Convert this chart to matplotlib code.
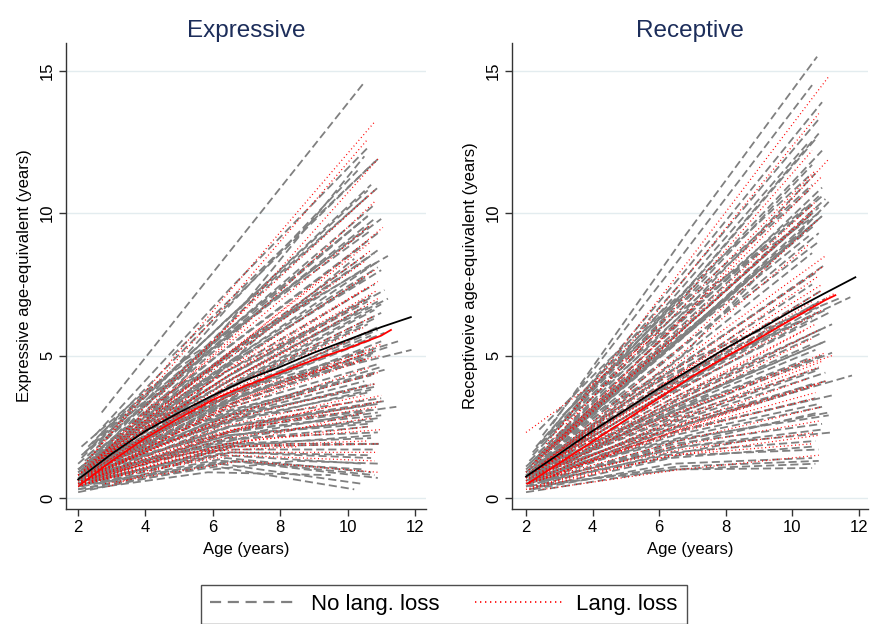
import matplotlib
matplotlib.use("Agg")
import matplotlib.pyplot as plt
from matplotlib.lines import Line2D

plt.rcParams["font.family"] = ["Liberation Sans", "DejaVu Sans"]

# each row: start age, end age, age-equivalent at start, at midpoint, at end
expr_noloss = [
    (2.7, 10.5, 3.0, 8.8, 14.6), (2.5, 10.6, 2.2, 7.4, 12.3), (2.3, 10.8, 1.8, 6.9, 11.8),
    (2.2, 10.7, 1.6, 6.3, 11.0), (2.4, 10.9, 1.9, 6.5, 10.9), (2.1, 10.8, 1.5, 5.9, 10.3),
    (2.0, 10.6, 1.2, 5.6, 9.9), (2.6, 10.7, 1.9, 5.9, 9.6), (2.2, 10.9, 1.3, 5.4, 9.3),
    (2.0, 10.5, 1.0, 5.1, 8.9), (2.3, 10.8, 1.4, 5.0, 8.6), (2.1, 10.9, 1.1, 4.8, 8.3),
    (2.5, 11.0, 1.5, 4.9, 8.0), (2.0, 10.6, 0.9, 4.5, 7.8), (2.2, 10.8, 1.2, 4.5, 7.5),
    (2.4, 11.1, 1.3, 4.5, 7.3), (2.0, 10.7, 0.9, 4.2, 7.1), (2.3, 10.9, 1.1, 4.2, 6.9),
    (2.1, 10.5, 1.0, 4.0, 6.7), (2.6, 11.0, 1.4, 4.1, 6.5), (2.0, 10.8, 0.8, 3.8, 6.3),
    (2.2, 10.6, 1.0, 3.8, 6.1), (2.4, 10.9, 1.2, 3.8, 5.9), (2.1, 10.7, 0.9, 3.6, 5.7),
    (2.0, 11.0, 0.7, 3.4, 5.5), (2.3, 11.2, 1.1, 3.6, 5.3), (2.5, 10.8, 1.3, 3.5, 5.1),
    (2.0, 10.6, 0.8, 3.2, 4.9), (2.2, 10.9, 1.0, 3.2, 4.7), (2.1, 11.1, 0.9, 3.1, 4.5),
    (2.4, 10.7, 1.1, 3.1, 4.3), (2.0, 10.5, 0.6, 2.8, 4.1), (2.3, 10.8, 1.0, 2.9, 3.9),
    (2.1, 10.6, 0.8, 2.7, 3.7), (2.6, 11.0, 1.2, 2.8, 3.5), (2.0, 10.9, 0.6, 2.5, 3.3),
    (2.2, 10.7, 0.8, 2.5, 3.1), (2.4, 11.0, 1.0, 2.4, 2.9), (2.1, 10.8, 0.7, 2.2, 2.7),
    (2.0, 10.6, 0.5, 2.0, 2.5), (2.3, 10.9, 0.8, 2.1, 2.3), (2.1, 10.7, 0.6, 1.9, 2.1),
    (2.5, 11.0, 0.9, 1.9, 1.9), (2.0, 10.8, 0.5, 1.7, 1.7), (2.2, 10.6, 0.6, 1.6, 1.5),
    (2.0, 10.5, 0.4, 1.5, 1.2), (2.1, 10.7, 0.4, 1.4, 0.9), (2.0, 10.4, 0.2, 1.2, 0.5),
    (2.3, 10.9, 0.5, 1.3, 0.7), (2.0, 10.2, 0.3, 1.1, 0.3), (3.5, 10.6, 2.6, 6.8, 10.6),
    (4.0, 10.8, 3.0, 6.6, 9.8), (3.2, 10.5, 2.0, 5.4, 8.5), (4.5, 11.2, 2.8, 5.0, 7.0),
    (3.0, 11.9, 1.4, 3.9, 5.2), (3.3, 11.5, 1.7, 4.0, 5.5), (2.8, 11.45, 1.2, 2.5, 3.2),
    (3.6, 11.2, 2.5, 5.9, 8.5), (5.0, 10.5, 4.0, 8.0, 12.0), (4.2, 10.2, 2.2, 5.5, 8.4),
    (3.0, 9.0, 1.8, 4.2, 6.0), (2.5, 8.5, 1.0, 2.6, 3.6), (5.5, 10.8, 2.0, 2.8, 3.3),
    (6.0, 11.0, 1.0, 1.3, 1.2), (2.0, 7.0, 0.5, 1.5, 2.0), (2.4, 6.5, 1.5, 3.5, 5.0),
    (4.8, 10.9, 5.0, 8.5, 11.9), (2.9, 10.3, 1.9, 6.9, 11.5), (3.8, 10.7, 1.6, 3.0, 4.0),
    (2.2, 9.5, 0.3, 0.9, 0.8), (2.1, 10.6, 1.4, 6.2, 10.8), (2.3, 10.4, 1.5, 5.8, 9.7),
    (2.0, 10.9, 1.0, 5.0, 8.7), (2.2, 10.5, 1.1, 4.6, 7.7), (2.5, 10.7, 1.6, 5.2, 8.2),
    (2.1, 11.0, 0.8, 4.0, 6.8), (2.4, 10.6, 1.2, 4.3, 6.9), (2.0, 10.9, 0.7, 3.6, 6.0),
    (2.2, 11.1, 0.9, 3.7, 5.8), (2.6, 10.8, 1.3, 3.7, 5.6), (2.1, 10.5, 0.7, 3.3, 5.2),
    (2.3, 10.7, 0.9, 3.3, 5.0), (2.0, 11.0, 0.6, 3.0, 4.6), (2.4, 10.9, 1.0, 3.0, 4.4),
    (2.2, 10.8, 0.8, 2.8, 4.0), (2.0, 10.7, 0.5, 2.6, 3.8), (2.5, 11.1, 0.9, 2.6, 3.4),
    (2.1, 10.9, 0.6, 2.3, 3.0), (2.3, 10.6, 0.7, 2.2, 2.6), (2.0, 10.8, 0.4, 1.8, 2.2),
    (2.2, 11.0, 0.5, 1.8, 1.9), (2.4, 10.7, 0.6, 1.6, 1.4), (2.0, 10.5, 0.3, 1.3, 1.0),
    (2.6, 10.8, 0.5, 1.3, 0.8), (3.0, 10.6, 2.4, 6.2, 9.9), (3.4, 10.9, 2.2, 5.3, 8.1),
    (2.8, 10.7, 2.1, 6.0, 9.4), (4.4, 11.0, 3.6, 6.9, 9.8), (3.1, 10.8, 1.6, 4.2, 6.6),
    (2.9, 10.5, 0.9, 2.2, 3.0), (3.6, 10.9, 1.2, 2.2, 2.8), (2.0, 5.5, 1.0, 2.4, 3.6),
    (2.1, 6.0, 1.8, 3.8, 5.4), (2.7, 7.5, 2.3, 4.8, 6.6),
]
expr_loss = [
    (2.4, 10.8, 1.5, 7.4, 13.2), (2.2, 10.6, 1.2, 6.8, 12.6), (2.3, 10.9, 1.0, 6.2, 11.9),
    (2.1, 10.8, 0.9, 5.5, 10.4), (2.6, 11.05, 1.3, 5.4, 9.5), (2.0, 10.7, 0.8, 5.0, 9.0),
    (2.2, 10.5, 0.9, 4.8, 8.3), (2.5, 10.9, 1.1, 4.5, 7.6), (2.1, 10.6, 0.7, 4.0, 7.0),
    (2.3, 10.8, 0.9, 3.9, 6.4), (2.0, 10.7, 0.6, 3.5, 5.9), (2.4, 11.0, 0.9, 3.4, 5.4),
    (2.2, 10.6, 0.7, 3.1, 4.9), (2.1, 10.9, 0.6, 2.9, 4.4), (2.5, 10.8, 0.9, 2.8, 4.0),
    (2.0, 10.5, 0.5, 2.5, 3.6), (2.3, 10.9, 0.7, 2.4, 3.2), (2.1, 10.7, 0.5, 2.1, 2.8),
    (2.6, 11.0, 0.8, 2.0, 2.4), (2.0, 10.6, 0.4, 1.8, 2.0), (2.2, 10.9, 0.5, 1.6, 1.6),
    (2.4, 10.8, 0.6, 1.5, 1.3), (2.8, 10.9, 0.5, 1.3, 0.9), (2.1, 8.5, 0.6, 1.6, 1.8),
    (3.0, 10.7, 2.0, 5.8, 9.6), (3.5, 10.9, 1.8, 4.5, 7.0), (2.7, 9.0, 1.4, 3.8, 5.6),
    (4.0, 11.0, 2.5, 4.0, 5.0), (2.9, 10.5, 0.4, 1.9, 3.0), (3.2, 10.6, 1.2, 3.5, 5.1),
    (2.0, 9.8, 0.5, 2.2, 3.3), (3.8, 10.8, 3.0, 7.0, 10.8), (2.2, 10.7, 1.1, 5.0, 8.7),
    (2.0, 10.9, 0.8, 4.3, 7.3), (2.3, 10.5, 0.8, 3.7, 6.0), (2.1, 10.8, 0.6, 3.2, 5.2),
    (2.4, 10.7, 0.8, 2.9, 4.6), (2.0, 11.0, 0.4, 2.3, 3.4), (2.2, 10.6, 0.5, 1.9, 2.5),
    (2.5, 10.9, 0.7, 1.8, 1.9), (3.0, 10.8, 1.6, 4.9, 8.0), (2.6, 10.6, 1.4, 4.6, 7.4),
    (3.3, 11.0, 1.0, 2.6, 3.6), (2.0, 7.0, 0.5, 1.9, 3.0),
]
rec_noloss = [
    (2.8, 10.75, 2.6, 9.2, 15.5), (2.5, 10.6, 2.2, 8.3, 14.5), (2.7, 10.9, 2.3, 8.0, 13.9),
    (2.3, 10.8, 1.8, 7.4, 13.3), (2.6, 10.5, 2.0, 7.2, 12.5), (2.2, 10.9, 1.6, 6.8, 12.2),
    (2.4, 10.7, 1.6, 6.3, 11.4), (2.1, 10.9, 1.3, 6.0, 10.9), (2.3, 11.0, 1.4, 5.9, 10.5),
    (2.0, 10.8, 1.1, 5.6, 10.2), (2.2, 10.6, 1.3, 5.6, 10.0), (2.4, 10.9, 1.4, 5.6, 9.9),
    (2.1, 10.7, 1.1, 5.3, 9.7), (2.5, 10.5, 1.6, 5.5, 9.5), (2.0, 10.8, 0.9, 5.0, 9.3),
    (2.3, 11.1, 1.2, 5.0, 10.4), (2.2, 10.6, 1.0, 4.7, 8.6), (2.1, 10.7, 1.0, 4.5, 7.9),
    (2.0, 10.9, 0.8, 4.1, 7.3), (2.4, 11.0, 1.2, 4.3, 7.0), (2.2, 10.8, 0.9, 3.9, 6.7),
    (2.0, 10.6, 0.7, 3.6, 6.3), (2.3, 11.2, 1.0, 3.7, 6.1), (2.1, 10.9, 0.8, 3.4, 5.8),
    (2.5, 11.0, 1.1, 3.4, 5.5), (2.0, 10.7, 0.6, 3.1, 5.2), (2.2, 10.5, 0.8, 3.0, 4.9),
    (2.4, 10.9, 0.9, 2.9, 4.6), (2.1, 11.0, 0.6, 2.7, 4.4), (2.3, 11.8, 0.9, 2.7, 4.3),
    (2.0, 10.6, 0.5, 2.4, 3.9), (2.2, 11.2, 0.7, 2.4, 3.6), (2.1, 10.8, 0.5, 2.2, 3.3),
    (2.4, 11.1, 0.8, 2.1, 2.9), (2.0, 10.9, 0.4, 1.9, 2.6), (2.3, 11.2, 0.6, 1.8, 2.3),
    (2.1, 10.7, 0.4, 1.6, 2.0), (2.5, 10.8, 0.6, 1.5, 1.7), (2.2, 10.6, 0.3, 1.2, 1.4),
    (2.0, 10.7, 0.2, 1.0, 1.2), (2.6, 10.6, 0.5, 1.0, 1.05), (3.0, 11.4, 2.3, 5.0, 7.0),
    (3.2, 11.75, 1.9, 4.7, 7.05), (3.5, 10.5, 3.5, 7.5, 11.3), (4.0, 10.7, 3.8, 8.0, 12.6),
    (3.3, 10.6, 2.8, 6.6, 10.3), (4.5, 10.8, 4.5, 7.5, 10.0), (3.0, 9.5, 1.5, 4.0, 6.0),
    (5.0, 11.0, 2.5, 4.0, 5.5), (2.8, 8.0, 1.0, 2.5, 3.6), (6.0, 11.1, 3.5, 5.0, 6.5),
    (2.4, 6.5, 2.4, 4.8, 7.0), (3.6, 10.9, 1.2, 2.3, 3.2), (2.9, 10.4, 2.5, 6.4, 10.2),
    (2.6, 9.0, 0.6, 1.4, 2.1), (3.0, 10.6, 2.2, 5.8, 9.8), (2.7, 10.3, 1.8, 5.5, 9.4),
    (4.2, 10.6, 1.5, 2.8, 4.0), (3.4, 10.8, 0.9, 2.0, 3.0), (2.0, 7.5, 0.6, 2.2, 3.6),
    (2.4, 10.8, 1.9, 7.0, 12.8), (2.2, 10.6, 1.5, 6.5, 11.7), (2.1, 10.8, 1.2, 5.8, 10.6),
    (2.3, 10.7, 1.3, 5.7, 10.1), (2.0, 10.9, 1.0, 5.4, 9.9), (2.2, 10.5, 1.2, 5.3, 9.2),
    (2.5, 10.8, 1.5, 5.3, 9.0), (2.1, 11.0, 0.9, 4.6, 8.2), (2.3, 10.6, 1.1, 4.3, 7.5),
    (2.0, 10.8, 0.8, 3.8, 6.9), (2.4, 10.7, 1.1, 3.9, 6.5), (2.2, 11.0, 0.8, 3.5, 6.0),
    (2.1, 10.6, 0.7, 3.2, 5.4), (2.3, 10.9, 0.8, 3.1, 5.0), (2.0, 10.8, 0.5, 2.7, 4.5),
    (2.5, 11.0, 0.9, 2.7, 4.1), (2.2, 10.7, 0.6, 2.3, 3.5), (2.0, 11.1, 0.4, 2.0, 3.0),
    (2.4, 10.9, 0.6, 1.8, 2.4), (2.1, 10.6, 0.3, 1.4, 1.8), (2.3, 10.8, 0.4, 1.1, 1.3),
    (3.1, 10.6, 2.9, 7.0, 11.0), (2.9, 10.9, 2.1, 6.5, 10.6), (3.8, 10.5, 3.3, 7.2, 10.8),
    (3.4, 10.7, 2.6, 6.1, 9.6), (4.6, 11.0, 2.8, 4.8, 6.6), (3.0, 11.2, 1.2, 3.2, 5.1),
    (2.6, 8.5, 1.4, 3.8, 5.7), (2.0, 5.5, 0.9, 2.6, 4.0), (3.2, 7.0, 3.0, 5.2, 7.4),
]
rec_loss = [
    (2.9, 11.1, 2.3, 8.5, 14.8), (2.6, 10.8, 1.9, 7.6, 13.5), (2.4, 10.6, 1.5, 6.7, 12.2),
    (2.2, 10.9, 1.2, 6.1, 11.3), (2.0, 10.7, 0.9, 5.5, 10.2), (2.3, 10.8, 1.0, 5.2, 9.8),
    (2.1, 10.5, 0.8, 4.7, 8.9), (2.5, 11.0, 1.2, 4.9, 8.5), (2.0, 10.8, 0.7, 4.2, 7.8),
    (2.2, 11.3, 0.9, 4.1, 7.2), (2.4, 10.9, 1.0, 3.8, 6.6), (2.1, 10.7, 0.7, 3.5, 6.1),
    (2.0, 10.6, 0.5, 3.1, 5.6), (2.3, 11.0, 0.8, 3.0, 5.1), (2.2, 10.8, 0.6, 2.7, 4.6),
    (2.5, 11.0, 0.9, 2.6, 4.1), (2.1, 10.7, 0.5, 2.3, 3.7), (2.3, 10.9, 0.6, 2.0, 3.2),
    (2.0, 10.8, 0.3, 1.8, 2.7), (2.6, 10.7, 0.7, 1.7, 2.3), (2.2, 10.6, 0.4, 1.5, 1.9),
    (2.5, 10.8, 0.3, 1.0, 1.5), (2.0, 6.0, 2.3, 4.0, 5.8), (3.0, 10.6, 2.0, 6.0, 10.0),
    (3.5, 10.9, 2.0, 4.8, 7.5), (2.8, 9.5, 1.4, 4.0, 6.3), (4.0, 11.2, 1.8, 3.5, 5.0),
    (2.7, 10.4, 1.0, 3.5, 5.9), (3.2, 10.7, 2.6, 7.0, 11.5), (2.4, 8.8, 0.6, 2.0, 3.3),
    (2.3, 10.7, 1.3, 5.8, 10.4), (2.1, 10.9, 0.9, 4.5, 8.1), (2.4, 10.6, 1.0, 3.9, 6.9),
    (2.0, 10.8, 0.6, 3.3, 5.9), (2.2, 10.9, 0.6, 2.8, 4.8), (2.5, 10.7, 0.7, 2.3, 3.5),
    (2.1, 10.8, 0.3, 1.5, 2.2), (2.6, 11.1, 1.6, 6.5, 11.9), (3.0, 10.9, 1.5, 4.4, 7.3),
    (2.8, 10.5, 0.8, 2.6, 4.2), (2.0, 6.5, 0.7, 2.5, 4.0), (3.4, 10.8, 1.1, 2.6, 4.0),
]

# group mean curves
mean_age_expr_nl = [2.0, 3, 4, 5, 6, 7, 8, 9, 10, 11, 11.88]
mean_expr_nl = [0.65, 1.55, 2.35, 3.0, 3.6, 4.15, 4.6, 5.1, 5.55, 6.0, 6.35]
mean_age_expr_l = [2.05, 3, 4, 5, 6, 7, 8, 9, 10, 11, 11.29]
mean_expr_l = [0.45, 1.3, 2.1, 2.8, 3.45, 3.95, 4.4, 4.85, 5.25, 5.7, 5.9]
mean_age_rec_nl = [2.0, 3, 4, 5, 6, 7, 8, 9, 10, 11, 11.9]
mean_rec_nl = [0.75, 1.55, 2.35, 3.1, 3.85, 4.55, 5.25, 5.9, 6.58, 7.2, 7.75]
mean_age_rec_l = [2.05, 3, 4, 5, 6, 7, 8, 9, 10, 11, 11.3]
mean_rec_l = [0.5, 1.22, 1.98, 2.74, 3.5, 4.27, 4.95, 5.6, 6.28, 6.95, 7.12]

x_ticks = [2, 4, 6, 8, 10, 12]
y_ticks = [0, 5, 10, 15]

GRAY = "#808080"
RED = "#ff0000"
NAVY = "#1c2d5a"


def draw_panel(ax, noloss, loss, age_nl, m_nl, age_l, m_l, title, ylabel, xlim):
    for y in y_ticks:
        ax.axhline(y, color="#e3ecef", lw=1.0, zorder=0)
    for a0, a1, y0, ym, y1 in noloss:
        ax.plot([a0, (a0 + a1) / 2, a1], [y0, ym, y1], color=GRAY, lw=1.3,
                dashes=(4.5, 2.2), zorder=2)
    for a0, a1, y0, ym, y1 in loss:
        ax.plot([a0, (a0 + a1) / 2, a1], [y0, ym, y1], color=RED, lw=0.9,
                dashes=(0.8, 2.2), zorder=3)
    ax.plot(age_nl, m_nl, color="black", lw=1.3, zorder=4)
    ax.plot(age_l, m_l, color=RED, lw=1.3, zorder=4)

    ax.set_xlim(*xlim)
    ax.set_ylim(-0.39, 15.98)
    ax.set_xticks(x_ticks)
    ax.set_yticks(y_ticks)
    for s in ["top", "right"]:
        ax.spines[s].set_visible(False)
    for s in ["left", "bottom"]:
        ax.spines[s].set_color("#333333")
        ax.spines[s].set_linewidth(1.0)
    ax.tick_params(direction="out", length=5, width=1, color="#333333", labelsize=12, pad=3)
    for lab in ax.get_yticklabels():
        lab.set_rotation(90)
        lab.set_va("center")
    ax.set_xlabel("Age (years)", fontsize=12, labelpad=5)
    ax.set_ylabel(ylabel, fontsize=12, labelpad=6)
    ax.set_title(title, fontsize=17.5, color=NAVY, pad=4)


fig = plt.figure(figsize=(8.72, 6.24), dpi=100)
ax1 = fig.add_axes([0.0757, 0.1843, 0.4128, 0.7468])
ax2 = fig.add_axes([0.5872, 0.1843, 0.4078, 0.7468])

draw_panel(ax1, expr_noloss, expr_loss, mean_age_expr_nl, mean_expr_nl,
           mean_age_expr_l, mean_expr_l, "Expressive",
           "Expressive age-equivalent (years)", (1.64, 12.33))
draw_panel(ax2, rec_noloss, rec_loss, mean_age_rec_nl, mean_rec_nl,
           mean_age_rec_l, mean_rec_l, "Receptive",
           "Receptiveive age-equivalent (years)", (1.58, 12.27))

handles = [
    Line2D([], [], color=GRAY, lw=1.6, dashes=(5, 3)),
    Line2D([], [], color=RED, lw=1.2, dashes=(0.8, 2.2)),
]
leg = fig.legend(handles, ["No lang. loss", "Lang. loss"], loc="upper center",
                 bbox_to_anchor=(0.509, 0.062), ncol=2, fontsize=16,
                 handlelength=3.9, handletextpad=0.65, columnspacing=1.6,
                 fancybox=False, frameon=True, borderpad=0.4, borderaxespad=0)
leg.get_frame().set_edgecolor("#222222")
leg.get_frame().set_linewidth(1.0)

fig.savefig("out.png", dpi=100)
